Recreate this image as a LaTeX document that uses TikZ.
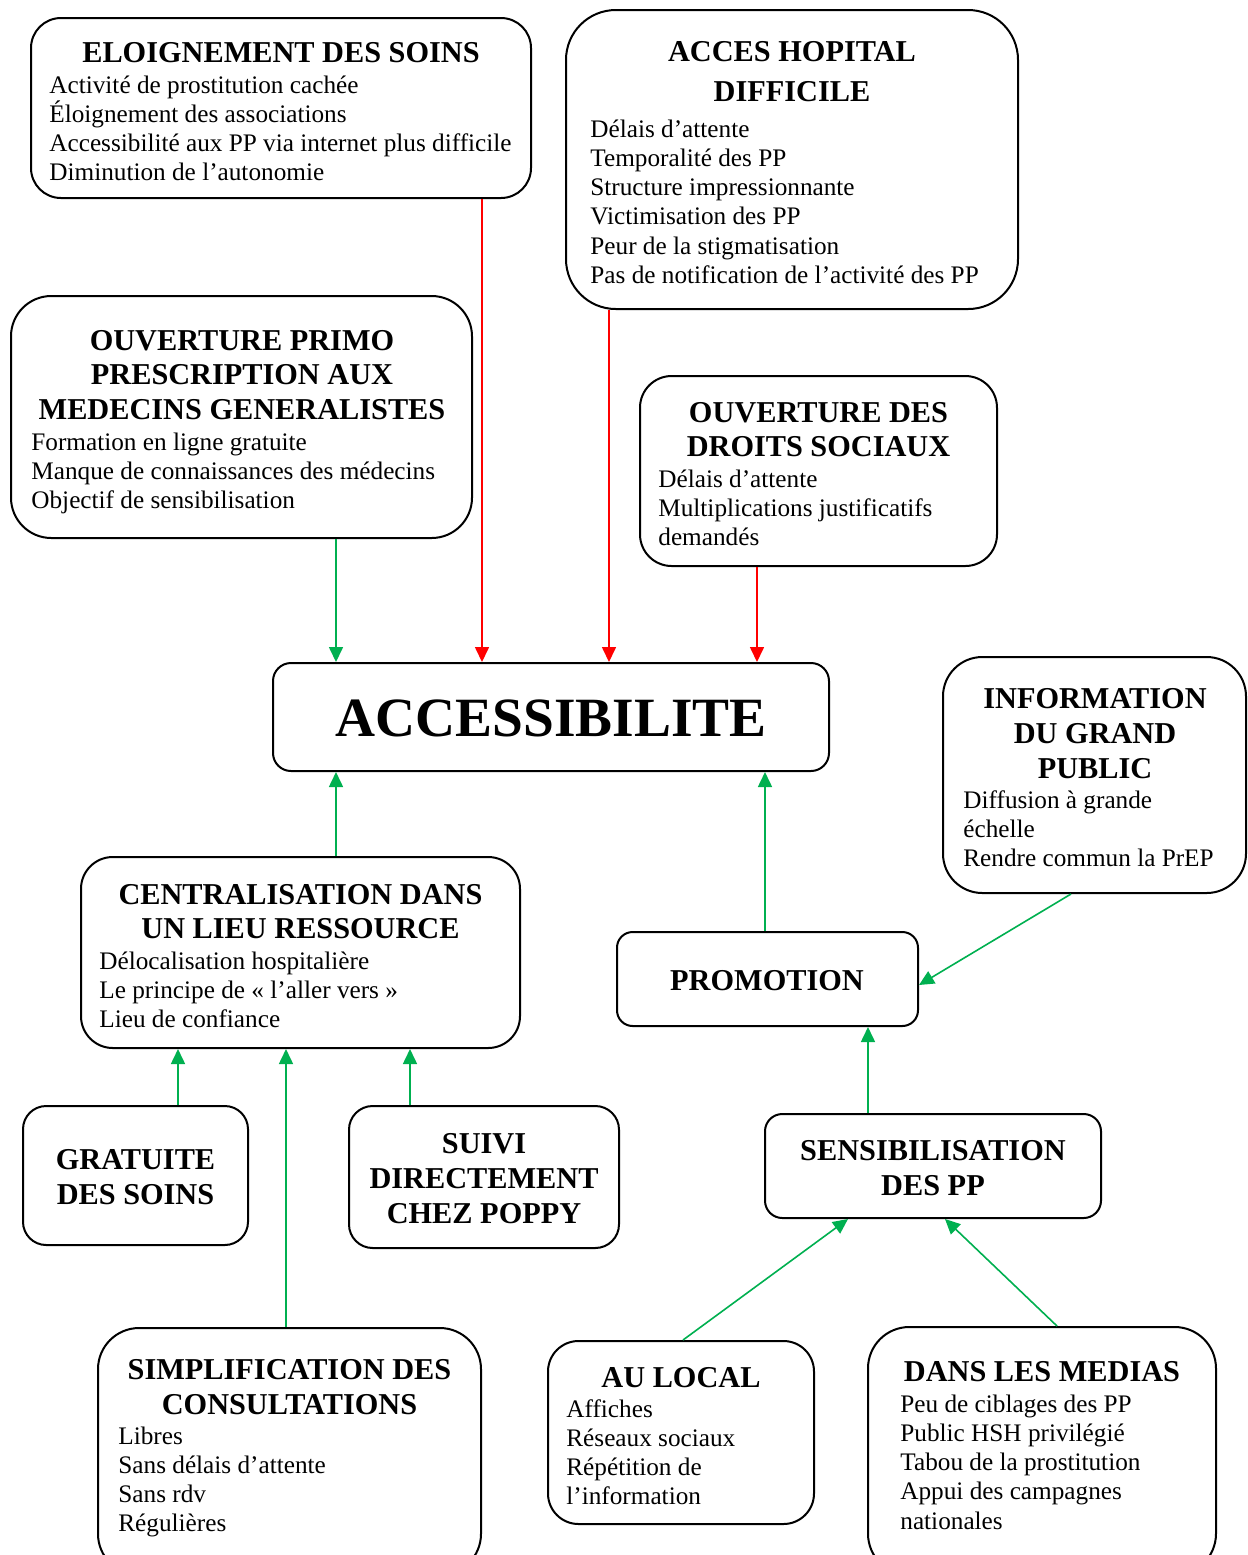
\documentclass[tikz,border=0pt]{standalone}
\usepackage{fontspec}
\setmainfont{Liberation Serif}
\usetikzlibrary{arrows.meta}
\definecolor{gr}{RGB}{0,176,80}
\definecolor{rd}{RGB}{255,0,0}
\newcommand\headfont{\bfseries\fontsize{15.15}{17}\selectfont}
\newcommand\bodyfont{\fontsize{12.62}{14.5}\selectfont}
\newcommand\bigfont{\bfseries\fontsize{27.7}{32}\selectfont}
\tikzset{
  box/.style={draw, line width=1pt, inner sep=0pt, fill=white},
  headtxt/.style={font=\headfont, anchor=base, inner sep=0pt},
  bodytxt/.style={font=\bodyfont, anchor=base west, inner sep=0pt},
  garr/.style={draw=gr, line width=0.8pt, -{Triangle[length=7.5pt,width=7pt]}, fill=gr},
  rarr/.style={draw=rd, line width=0.8pt, -{Triangle[length=7.5pt,width=7pt]}, fill=rd},
}
\newcommand\mkbox[5]{%
  \pgfmathsetmacro\rr{min(#4-#2,#5-#3)/12}%
  \node[box, minimum width={(#4-#2)*0.5pt}, minimum height={(#5-#3)*0.5pt}, rounded corners=\rr pt] (#1) at ({(#2+#4)/2},{(#3+#5)/2}) {};}
\newcommand\headlines[5]{% name, cx, y0, spacing, list
  \foreach \t [count=\i] in {#5} {\node[headtxt] (#1-h\i) at (#2,{#3+#4*(\i-1)}) {\t};}}
\newcommand\bodylines[4]{% name, x, y0, list
  \foreach \t [count=\i] in {#4} {\node[bodytxt] (#1-b\i) at (#2,{#3+1+29.25*(\i-1)}) {\t};}}
\begin{document}
\begin{tikzpicture}[x=0.5pt,y=-0.5pt]
\useasboundingbox (0,0) rectangle (1248,1555);
\fill[white] (0,0) rectangle (1248,1555);

% boxes
\mkbox{elo}{31}{18}{531}{198}
\mkbox{hop}{566}{10}{1018}{309}
\mkbox{primo}{11}{296}{472}{538}
\mkbox{droits}{640}{376}{997}{566}
\mkbox{acc}{273}{663}{829}{771}
\mkbox{info}{943}{657}{1246}{893}
\mkbox{cent}{81}{857}{520}{1048}
\mkbox{promo}{617}{932}{918}{1026}
\mkbox{grat}{23}{1106}{248}{1245}
\mkbox{suivi}{349}{1106}{619}{1248}
\mkbox{sens}{765}{1114}{1101}{1218}
\mkbox{simp}{98}{1328}{481}{1575}
\mkbox{local}{548}{1341}{814}{1524}
\mkbox{medias}{868}{1327}{1216}{1575}

% texts
\headlines{elo}{281}{62}{35}{ELOIGNEMENT DES SOINS}
\bodylines{elo}{49}{92}{Activité de prostitution cachée,Éloignement des associations,Accessibilité aux PP via internet plus difficile,Diminution de l’autonomie}

\headlines{hop}{792}{61}{40}{ACCES HOPITAL,DIFFICILE}
\bodylines{hop}{590}{136}{Délais d’attente,Temporalité des PP,Structure impressionnante,Victimisation des PP,Peur de la stigmatisation,Pas de notification de l’activité des PP}

\headlines{primo}{242}{350}{34.5}{OUVERTURE PRIMO,PRESCRIPTION AUX,MEDECINS GENERALISTES}
\bodylines{primo}{31}{449}{Formation en ligne gratuite,Manque de connaissances des médecins,Objectif de sensibilisation}

\headlines{droits}{818.5}{422}{34.5}{OUVERTURE DES,DROITS SOCIAUX}
\bodylines{droits}{658}{486}{Délais d’attente,Multiplications justificatifs,demandés}

\node[font=\bigfont, anchor=base, inner sep=0pt] (acc-t) at (551,736) {ACCESSIBILITE};

\headlines{info}{1095}{708}{35}{INFORMATION,DU GRAND,PUBLIC}
\bodylines{info}{963}{807}{Diffusion à grande,échelle,Rendre commun la PrEP}

\headlines{cent}{300.5}{904}{34.5}{CENTRALISATION DANS,UN LIEU RESSOURCE}
\bodylines{cent}{99}{968}{Délocalisation hospitalière,Le principe de «~l’aller vers~»,Lieu de confiance}

\headlines{promo}{767}{990}{35}{PROMOTION}
\headlines{grat}{135.5}{1169}{35}{GRATUITE,DES SOINS}
\headlines{suivi}{484}{1153}{35}{SUIVI,DIRECTEMENT,CHEZ POPPY}
\headlines{sens}{933}{1160}{35}{SENSIBILISATION,DES PP}

\headlines{simp}{289.5}{1379}{35}{SIMPLIFICATION DES,CONSULTATIONS}
\bodylines{simp}{118}{1443}{Libres,Sans délais d’attente,Sans rdv,Régulières}

\headlines{local}{681}{1387}{35}{AU LOCAL}
\bodylines{local}{566}{1416}{Affiches,Réseaux sociaux,Répétition de,l’information}

\headlines{medias}{1042}{1381}{35}{DANS LES MEDIAS}
\bodylines{medias}{900}{1411}{Peu de ciblages des PP,Public HSH privilégié,Tabou de la prostitution,Appui des campagnes,nationales}

% connectors
\draw[rarr] (482,0 |- elo.south) -- (482,0 |- acc.north);
\draw[rarr] (609,0 |- hop.south) -- (609,0 |- acc.north);
\draw[rarr] (757,0 |- droits.south) -- (757,0 |- acc.north);
\draw[garr] (336,0 |- primo.south) -- (336,0 |- acc.north);
\draw[garr] (336,0 |- cent.north) -- (336,0 |- acc.south);
\draw[garr] (765,0 |- promo.north) -- (765,0 |- acc.south);
\draw[garr] (1071,0 |- info.south) -- ([yshift=-3pt]promo.east);
\draw[garr] (868,0 |- sens.north) -- (868,0 |- promo.south);
\draw[garr] (178,0 |- grat.north) -- (178,0 |- cent.south);
\draw[garr] (410,0 |- suivi.north) -- (410,0 |- cent.south);
\draw[garr] (286,0 |- simp.north) -- (286,0 |- cent.south);
\draw[garr] (683,0 |- local.north) -- (848,0 |- sens.south);
\draw[garr] (1057,0 |- medias.north) -- (945,0 |- sens.south);
\end{tikzpicture}
\end{document}
